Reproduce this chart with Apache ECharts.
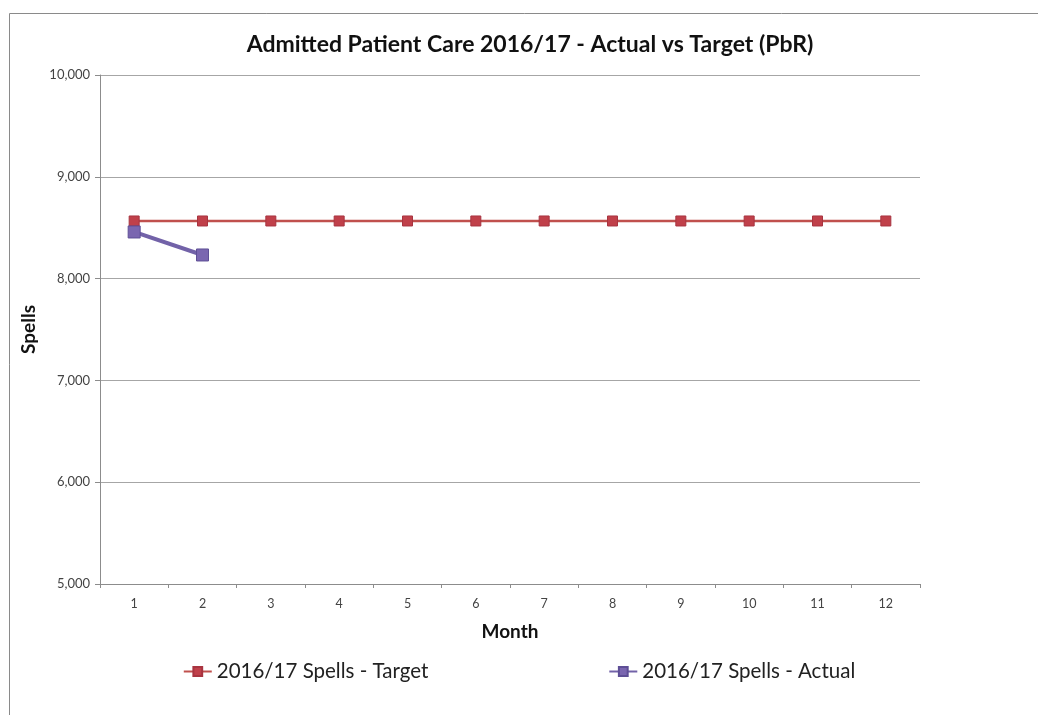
<!DOCTYPE html>
<html>
<head>
<meta charset="utf-8">
<script src="https://cdn.jsdelivr.net/npm/echarts@6/dist/echarts.min.js"></script>
<style>
  html, body { margin: 0; padding: 0; background: #fff; }
  #chart { width: 1038px; height: 715px; }
</style>
</head>
<body>
<div id="chart"></div>
<script>
const months = ["1", "2", "3", "4", "5", "6", "7", "8", "9", "10", "11", "12"];
const target = [8566, 8566, 8566, 8566, 8566, 8566, 8566, 8566, 8566, 8566, 8566, 8566];
const actual = [8458, 8232];

const font = "Lato, 'Liberation Sans', sans-serif";
const chart = echarts.init(document.getElementById("chart"));

chart.setOption({
  animation: false,
  textStyle: { fontFamily: font },
  graphic: [{
    type: "rect",
    shape: { x: 9.5, y: 13.5, width: 1040, height: 720 },
    style: { fill: "none", stroke: "#8a8a8a", lineWidth: 1 },
    silent: true
  }],
  title: {
    text: "Admitted Patient Care 2016/17 - Actual vs Target (PbR)",
    left: 525, top: 28, textAlign: "center",
    textStyle: { fontSize: 23, fontWeight: "bold", color: "#111", fontFamily: font }
  },
  grid: { left: 100, right: 118, top: 75, bottom: 131 },
  legend: {
    bottom: 28, left: "center", itemGap: 180, itemWidth: 28, itemHeight: 11,
    textStyle: { fontSize: 20.5, color: "#222", fontFamily: font },
    data: ["2016/17 Spells - Target", "2016/17 Spells - Actual"]
  },
  xAxis: {
    type: "category", data: months, boundaryGap: true,
    name: "Month", nameLocation: "middle", nameGap: 38,
    nameTextStyle: { fontSize: 19, fontWeight: "bold", color: "#111" },
    axisLine: { lineStyle: { color: "#8c8c8c" } },
    axisTick: { show: true, length: 4, lineStyle: { color: "#8c8c8c" } },
    axisLabel: { fontSize: 12.5, color: "#444", margin: 13 }
  },
  yAxis: {
    type: "value", min: 5000, max: 10000, interval: 1000,
    name: "Spells", nameLocation: "middle", nameGap: 62,
    nameTextStyle: { fontSize: 19, fontWeight: "bold", color: "#111" },
    axisLine: { show: true, lineStyle: { color: "#8c8c8c" } },
    axisTick: { show: true, length: 5, lineStyle: { color: "#8c8c8c" } },
    axisLabel: { fontSize: 13, color: "#444", margin: 10, formatter: (v) => v.toLocaleString("en-US") },
    splitLine: { lineStyle: { color: "#a6a6a6" } }
  },
  series: [
    {
      name: "2016/17 Spells - Target", type: "line", data: target,
      symbol: "rect", symbolSize: 10,
      lineStyle: { color: "#c0504d", width: 2.5 },
      itemStyle: { color: "#c0404a", borderColor: "#a83440", borderWidth: 1 }
    },
    {
      name: "2016/17 Spells - Actual", type: "line", data: actual,
      symbol: "rect", symbolSize: 12,
      lineStyle: { color: "#7262a8", width: 4 },
      itemStyle: { color: "#7a66b0", borderColor: "#5e4f96", borderWidth: 1 }
    }
  ]
});
</script>
</body>
</html>
